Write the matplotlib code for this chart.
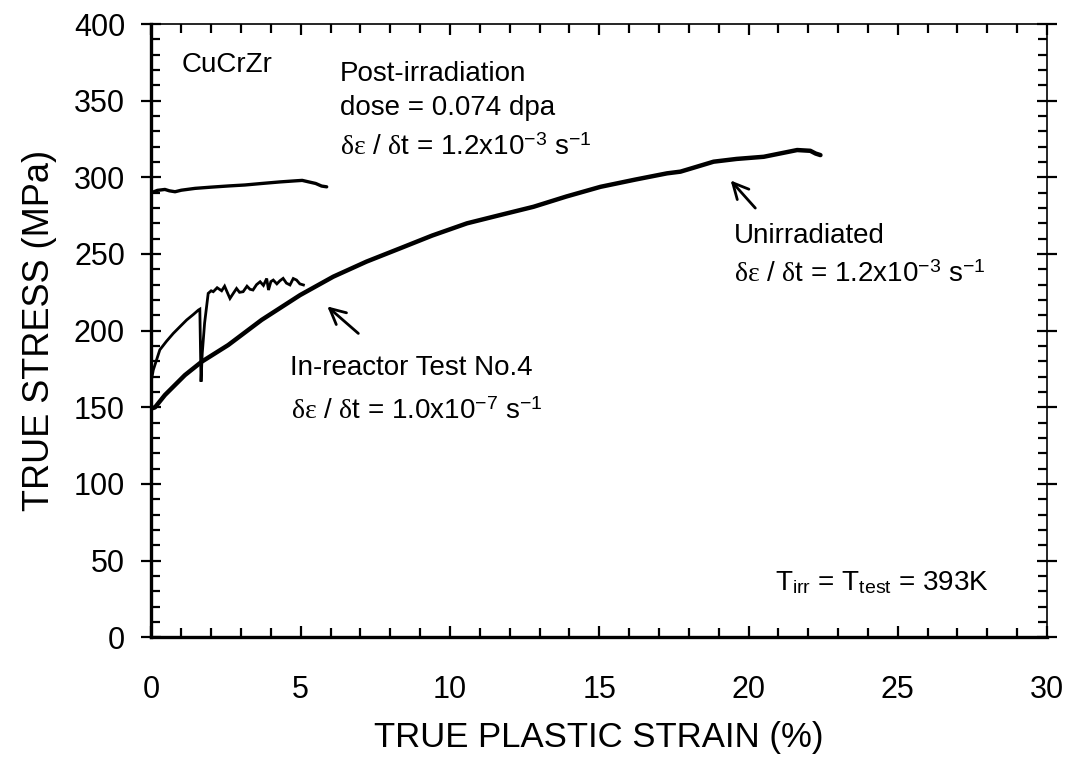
# True stress vs true plastic strain, CuCrZr
import matplotlib
matplotlib.use("Agg")
import matplotlib.pyplot as plt
from matplotlib.ticker import MultipleLocator

plt.rcParams['font.family'] = ['Liberation Sans', 'DejaVu Sans']
plt.rcParams['mathtext.fontset'] = 'custom'
plt.rcParams['mathtext.rm'] = 'Liberation Sans'
plt.rcParams['mathtext.it'] = 'Liberation Serif'
plt.rcParams['mathtext.bf'] = 'Liberation Sans:bold'

# Post-irradiation (thin-medium line near 290-298 MPa)
post_strain = [0.0, 0.2, 0.45, 0.6, 0.79, 1.0, 1.46, 2.0, 2.6, 3.13, 3.7, 4.3, 4.81, 5.05, 5.25, 5.5, 5.7, 5.87]
post_stress = [290.0, 291.5, 292.1, 291.2, 290.6, 291.6, 292.8, 293.6, 294.4, 295.0, 296.0, 297.0, 297.7, 298.0, 297.1, 296.0, 294.3, 293.8]

# Unirradiated (thick line)
unirr_strain = [0.05, 0.12, 0.45, 1.12, 1.68, 2.57, 3.69, 4.98, 6.09, 7.2, 8.33, 9.4, 10.57, 11.7, 12.8, 13.9, 15.04,
                16.2, 17.27, 17.72, 18.2, 18.83, 19.6, 20.51, 21.07, 21.63, 22.07, 22.25, 22.41]
unirr_stress = [149.5, 150.0, 158.0, 171.0, 179.7, 190.6, 207.0, 223.2, 235.2, 245.0, 253.7, 262.0, 270.0, 275.5, 280.8,
                287.5, 293.8, 298.5, 302.6, 303.7, 306.5, 310.2, 312.0, 313.4, 315.6, 317.8, 317.3, 315.5, 314.5]

# In-reactor Test No.4 (thin noisy line)
inr_strain = [0.0, 0.06, 0.28, 0.5, 0.73, 1.0, 1.18, 1.4, 1.57, 1.62, 1.66, 1.7, 1.78, 1.9, 2.0, 2.07, 2.2, 2.35, 2.45,
              2.55, 2.63, 2.74, 2.85, 2.95, 3.07, 3.2, 3.3, 3.4, 3.52, 3.64, 3.75, 3.86, 3.92, 4.0, 4.08, 4.2, 4.3,
              4.41, 4.52, 4.64, 4.75, 4.86, 4.97, 5.09]
inr_stress = [168.0, 174.3, 187.5, 193.0, 198.2, 203.5, 207.0, 210.5, 213.4, 214.0, 166.7, 185.0, 205.0, 224.3, 226.0,
              225.4, 228.0, 226.0, 229.0, 224.5, 221.0, 224.3, 227.5, 225.0, 225.4, 229.0, 227.0, 226.5, 230.0, 231.9,
              229.5, 234.0, 226.5, 232.0, 233.0, 230.5, 232.5, 234.1, 231.0, 229.8, 234.0, 233.0, 230.5, 229.8]

fig = plt.figure(figsize=(10.72, 7.72), dpi=100)
ax = fig.add_axes([0.1413, 0.1745, 0.8354, 0.7944])

ax.plot(post_strain, post_stress, color='black', lw=2.4, solid_capstyle='round')
ax.plot(unirr_strain, unirr_stress, color='black', lw=3.2, solid_capstyle='round')
ax.plot(inr_strain, inr_stress, color='black', lw=2.0, solid_joinstyle='miter')

ax.set_xlim(0, 30)
ax.set_ylim(0, 400)
ax.xaxis.set_major_locator(MultipleLocator(5))
ax.xaxis.set_minor_locator(MultipleLocator(1))
ax.yaxis.set_major_locator(MultipleLocator(50))
ax.yaxis.set_minor_locator(MultipleLocator(10))

ax.tick_params(axis='x', which='major', direction='in', length=8, width=1.6, top=True, labelsize=22, pad=27)
ax.tick_params(axis='x', which='minor', direction='in', length=6.5, width=1.6, top=True)
ax.tick_params(axis='y', which='major', direction='inout', length=14, width=1.6, right=True, labelsize=22, pad=12)
ax.tick_params(axis='y', which='minor', direction='in', length=6.5, width=1.6, right=True)

for side in ['left', 'bottom']:
    ax.spines[side].set_linewidth(2.4)
for side in ['top', 'right']:
    ax.spines[side].set_linewidth(1.2)

ax.set_xlabel('TRUE PLASTIC STRAIN (%)', fontsize=25, labelpad=12)
ax.set_ylabel('TRUE STRESS (MPa)', fontsize=26, labelpad=12)

fs = 20
ax.text(1.01, 368.8, 'CuCrZr', fontsize=fs)
ax.text(6.3, 363.0, 'Post-irradiation', fontsize=fs)
ax.text(6.3, 340.6, 'dose = 0.074 dpa', fontsize=fs)
ax.text(6.3, 314.5, r'$\delta\varepsilon$ / $\delta$t = 1.2x10$^{-3}$ s$^{-1}$', fontsize=fs)

ax.text(19.5, 256.9, 'Unirradiated', fontsize=fs)
ax.text(19.5, 231.9, r'$\delta\varepsilon$ / $\delta$t = 1.2x10$^{-3}$ s$^{-1}$', fontsize=fs)

ax.text(4.64, 171.0, 'In-reactor Test No.4', fontsize=fs)
ax.text(4.68, 142.2, r'$\delta\varepsilon$ / $\delta$t = 1.0x10$^{-7}$ s$^{-1}$', fontsize=fs)

ax.text(20.9, 30.8, r'T$_{\mathrm{irr}}$ = T$_{\mathrm{test}}$ = 393K', fontsize=fs)

arrow = dict(arrowstyle='->', lw=2.0, color='black', mutation_scale=28)
ax.annotate('', xy=(19.34, 299.3), xytext=(20.29, 278.6), arrowprops=arrow)
ax.annotate('', xy=(5.82, 217.0), xytext=(7.0, 197.0), arrowprops=arrow)

plt.savefig('out.png', dpi=100)
